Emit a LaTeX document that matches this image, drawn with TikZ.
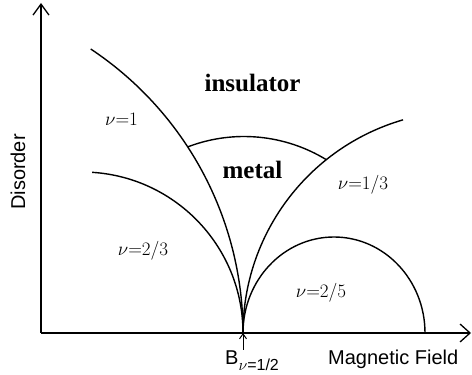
\RequirePackage{fix-cm}
\documentclass[tikz,border=0pt]{standalone}
\usepackage{fontspec}
\setmainfont{Liberation Serif}
\newfontfamily\sansf{Liberation Sans}
\usetikzlibrary{arrows.meta}
\begin{document}
\begin{tikzpicture}[x=1pt,y=1pt,
  curve/.style={line width=1.4pt},
  axisline/.style={line width=1.3pt},
  bigword/.style={font=\fontsize{25}{30}\selectfont\bfseries, inner sep=0pt, anchor=base},
  nulabel/.style={font=\fontsize{19}{23}\selectfont, inner sep=0pt, anchor=base},
  sanslabel/.style={font=\sansf\fontsize{20}{24}\selectfont, inner sep=0pt, anchor=base west}]
\useasboundingbox (0,0) rectangle (472,375);
\coordinate (O) at (41,42);
\coordinate (ytop) at (41,372);
\coordinate (xend) at (471,42);
\coordinate (P) at (243,42);
\coordinate (Pfoot) at (243,25);
% axes
\draw[axisline,-{Straight Barb[length=11pt,width=16pt,line width=1.3pt]}] (O) -- (ytop);
\draw[axisline,-{Straight Barb[length=10pt,width=18pt,line width=1.3pt]}] (O) -- (xend);
\draw[line width=1pt,-{Straight Barb[length=5pt,width=7pt,line width=1pt]}] (Pfoot) -- (P);
% phase boundaries
\draw[curve] (P) arc[start angle=0, end angle=56.4, radius=341];
\draw[curve] (P) arc[start angle=0, end angle=86.4, radius=161];
\draw[curve] (P) arc[start angle=180, end angle=106.2, radius=222];
\draw[curve] (P) arc[start angle=180, end angle=0, x radius=91, y radius=96];
\draw[curve] ([shift={(244,80.8)}]110.9:157.7) arc[start angle=110.9, end angle=58.5, radius=157.7];
% labels
\node[bigword] (ins) at (252.5,283) {insulator};
\node[bigword] (met) at (252.5,196) {metal};
\node[nulabel] (n1) at (121.5,249) {$\nu{=}1$};
\node[nulabel] (n13) at (363,185) {$\nu{=}1/3$};
\node[nulabel] (n23) at (143,119) {$\nu{=}2/3$};
\node[nulabel] (n25) at (321,77) {$\nu{=}2/5$};
\node[sanslabel, anchor=base, rotate=90] (dis) at (25,203) {Disorder};
\node[sanslabel] (mf) at (328,10) {Magnetic Field};
\node[sanslabel] (bh) at (225,10) {B\raisebox{-6pt}{\fontsize{16}{19}\selectfont$\nu$=1/2}};
\end{tikzpicture}
\end{document}
